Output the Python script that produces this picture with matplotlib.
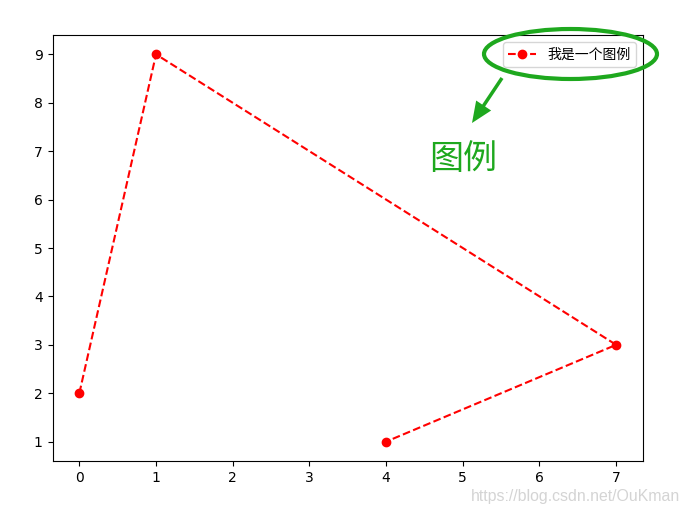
import matplotlib
matplotlib.use("Agg")
import matplotlib.pyplot as plt
from matplotlib.patches import Ellipse, FancyArrow

x = [0, 1, 7, 4]
y = [2, 9, 3, 1]
legend_label = "我是一个图例"
annot_text = "图例"
watermark = "https://blog.csdn.net/OuKman"

W, H = 687, 515
fig = plt.figure(figsize=(W / 100, H / 100), dpi=100)
ax = fig.add_axes([52.5 / W, 1 - 461 / H, (643 - 52.5) / W, (461 - 35) / H])

ax.plot(x, y, 'r--', marker='o', label=legend_label)
ax.legend(loc='upper right', prop={'family': ['Noto Sans CJK SC', 'DejaVu Sans'], 'size': 10})

green = '#1ea81e'
tr = fig.dpi_scale_trans

def px(xp, yp):
    return xp / 100, (H - yp) / 100

# ellipse around legend
cx, cy = px(570.5, 54)
ell = Ellipse((cx, cy), 173 / 100, 50 / 100, transform=tr, fill=False,
              edgecolor=green, linewidth=3, zorder=10)
fig.patches.append(ell)
ell.set_figure(fig)

# arrow
x0, y0 = px(502, 78)
x1, y1 = px(472, 123)
arr = FancyArrow(x0, y0, x1 - x0, y1 - y0, width=0.035, head_width=0.18,
                 head_length=0.21, length_includes_head=True, transform=tr,
                 color=green, linewidth=0, zorder=10)
fig.patches.append(arr)
arr.set_figure(fig)

tx, ty = px(463.5, 159)
fig.text(tx / (W / 100), ty / (H / 100), annot_text, color=green, fontsize=24.5,
         family=['Noto Sans CJK SC', 'DejaVu Sans'], ha='center', va='center')

fig.text(576 / W, 1 - 497 / H, watermark, color='#d4d4d4', fontsize=11.4,
         family='Liberation Sans', ha='center', va='center')

fig.savefig('out.png', dpi=100)
